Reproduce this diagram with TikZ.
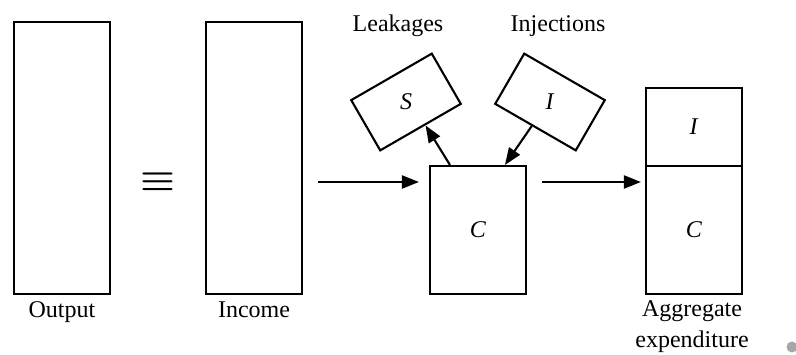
\documentclass[tikz,border=0pt]{standalone}
\usepackage{fontspec}
\setmainfont{Liberation Serif}
\usetikzlibrary{arrows.meta,calc}
\begin{document}
\begin{tikzpicture}[x=1pt,y=-1pt,
  font=\fontsize{24}{31}\selectfont,
  box/.style={draw,line width=2.1pt,inner sep=0pt,minimum width=96pt},
  tilt/.style={draw,line width=2.1pt,inner sep=0pt,minimum width=93pt,minimum height=58pt},
  arr/.style={line width=2.1pt,-{Triangle[length=17pt,width=13pt]}},
  lab/.style={anchor=base,inner sep=0pt}]
\useasboundingbox (0,0) rectangle (796,355);
\node[box,minimum height=272pt] (out) at (62,158) {};
\node[box,minimum height=272pt] (inc) at (254,158) {};
\node[box,minimum height=128pt] (C) at (478,230) {\textit{C}};
\node[box,minimum height=78pt] (aeI) at (694,127) {\textit{I}};
\node[box,minimum height=128pt] (aeC) at (694,230) {\textit{C}};
\node[tilt,rotate=30] (S) at (406,102) {};
\node[tilt,rotate=-30] (I) at (550,102) {};
\node (Slab) at (S.center) {\textit{S}};
\node (Ilab) at (I.center) {\textit{I}};
\node[inner sep=0pt] (eq) at (158.5,182) {\resizebox{35pt}{17.5pt}{\boldmath$\equiv$}};
\node[lab] (tout) at (62,318) {Output};
\node[lab] (tinc) at (254,318) {Income};
\node[lab] (tae1) at (692,317) {Aggregate};
\node[lab] (tae2) at (692,348) {expenditure};
\node[lab] (tleak) at (398,32) {Leakages};
\node[lab] (tinj) at (558,32) {Injections};
\coordinate (sEnd) at ($(S.south)!0.11!(S.south east)$);
\coordinate (iStart) at ($(I.south)!0.08!(I.south west)$);
\draw[arr] ([xshift=15pt,yshift=-24pt]inc.east) -- ([xshift=-10pt,yshift=48pt]C.west);
\draw[arr] ([xshift=15pt,yshift=48pt]C.east) -- ([xshift=-4pt,yshift=48pt]aeC.west);
\draw[arr] ([xshift=21pt]C.north west) -- (sEnd);
\draw[arr] (iStart) -- ([xshift=76pt]C.north west);
\fill[gray!70] (792,347) circle (5.5pt);
\end{tikzpicture}
\end{document}
